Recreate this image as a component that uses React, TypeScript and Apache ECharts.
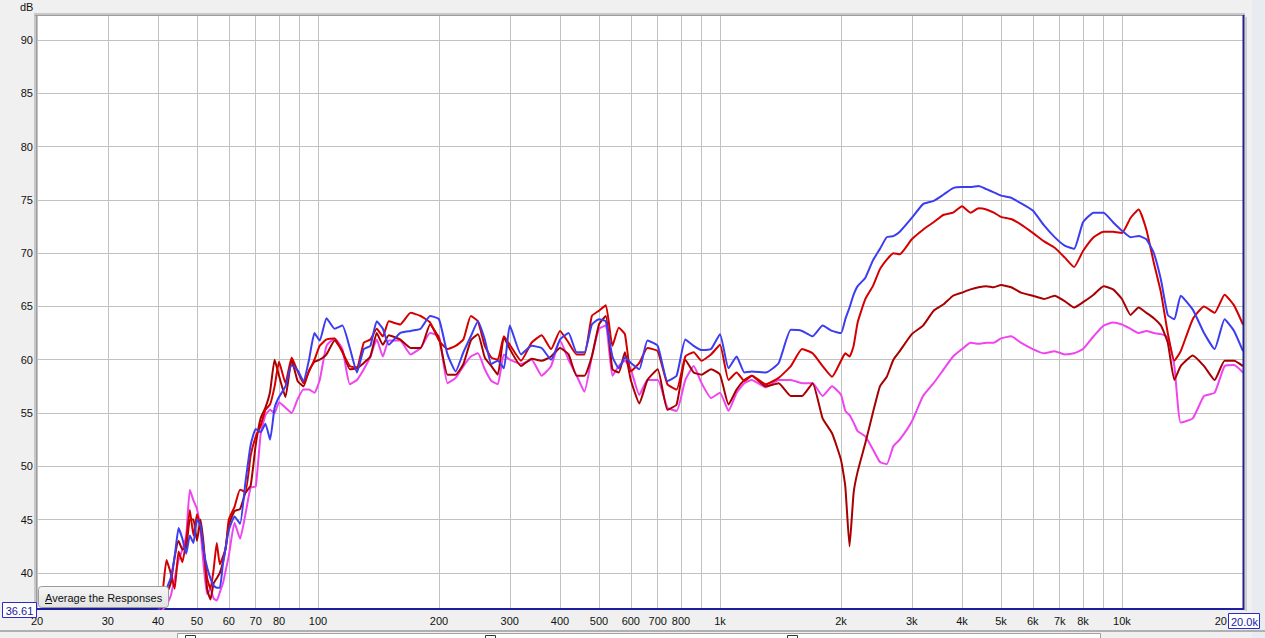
import React, { useEffect, useRef } from "react";
import * as echarts from "echarts";

// Frequencies (Hz) shared by all four responses
const freqs = [
  40, 41, 42, 43, 44, 45, 46, 47, 48, 49, 50, 51, 52, 53, 54, 55, 56, 57, 58, 59, 60,
  62, 64, 66, 68, 70, 72, 74, 76, 78, 80,
  83, 86, 89, 92, 95, 98, 101,
  105, 110, 115, 120, 125, 130, 135, 140, 145, 150,
  160, 170, 180, 190, 200,
  210, 220, 230, 240, 250, 260, 270, 280, 290, 300,
  320, 340, 360, 380, 400,
  420, 440, 460, 480, 500,
  520, 540, 560, 580, 600,
  630, 660, 700, 740, 780, 820, 860, 900, 950, 1000,
  1050, 1100, 1150, 1200, 1300, 1400, 1500, 1600, 1700, 1800, 1900, 2000,
  2050, 2100, 2150, 2200, 2300, 2400, 2500, 2600, 2700, 2800,
  3000, 3200, 3400, 3600, 3800, 4000,
  4200, 4400, 4600, 4800, 5000,
  5300, 5600, 6000, 6400, 6800, 7200, 7600, 8000,
  8500, 9000, 9500, 10000,
  10500, 11000, 11500, 12000, 12500, 13000, 13500, 14000,
  15000, 16000, 17000, 18000, 19000, 20000,
];

const blueDb = [
  36.5, 37.0, 38.5, 39.5, 41.5, 44.2, 43.2, 41.8, 43.5, 42.8, 45.0, 44.5, 42.0, 40.5, 39.5, 38.8, 38.6, 38.6, 40.8, 42.5, 44.0,
  45.3, 44.6, 48.5, 52.0, 53.5, 53.2, 54.0, 52.5, 55.5, 56.5,
  57.5, 59.5, 59.0, 58.0, 60.0, 62.5, 61.8,
  63.9, 62.9, 63.2, 61.1, 58.8, 61.0, 61.3, 63.6, 62.9, 61.4,
  62.5, 62.7, 62.9, 64.1, 63.8,
  60.5, 58.9, 60.7, 62.2, 63.6, 61.9, 59.6, 59.9, 59.2, 63.2,
  60.5, 61.3, 61.1, 60.0, 61.9,
  62.5, 60.7, 60.7, 63.3, 63.8,
  63.6, 60.3, 59.2, 60.2, 59.7,
  59.1, 61.8, 61.3, 58.0, 58.5, 61.9, 61.3, 60.9, 61.0, 62.4,
  59.2, 60.3, 58.8, 58.9, 58.8, 59.7, 62.8, 62.7, 62.2, 63.2, 62.7, 62.5,
  63.8, 64.9, 66.1, 66.9, 67.7, 69.3, 70.4, 71.5, 71.6, 72.0,
  73.3, 74.6, 74.9, 75.5, 76.1, 76.2,
  76.2, 76.3, 76.0, 75.7, 75.4,
  75.2, 74.7, 74.0, 72.6, 71.5, 70.7, 70.4, 72.9,
  73.8, 73.8, 72.9, 72.1,
  71.5, 71.6, 71.3, 70.0, 67.5, 64.2, 63.8, 66.0,
  64.7, 62.5, 61.0, 63.8, 62.7, 60.8,
];

const redDb = [
  36.8, 38.0, 41.2, 40.0, 38.5, 42.0, 41.0, 43.0, 45.9, 43.5, 45.5, 44.3, 42.0, 39.5, 38.5, 40.3, 42.8, 40.8, 41.5, 42.4, 45.0,
  46.2, 47.8, 47.6, 51.0, 52.8, 53.8, 55.3, 55.8, 57.5, 59.8,
  57.8, 60.2, 58.9, 57.8, 58.9, 60.0, 61.3,
  61.9, 62.0, 60.7, 59.4, 59.3, 61.6, 61.9, 62.9, 62.2, 63.6,
  63.3, 64.4, 64.1, 63.5, 61.8,
  61.0, 61.3, 61.9, 64.1, 63.6, 61.3, 60.2, 60.0, 62.2, 61.4,
  59.9, 61.6, 62.3, 61.0, 62.7,
  61.6, 60.5, 60.5, 64.1, 64.6,
  65.1, 61.3, 63.0, 62.4, 58.9,
  59.7, 61.1, 60.8, 57.7, 57.2, 60.3, 60.7, 59.9, 60.5, 61.4,
  58.1, 58.8, 58.0, 58.5, 57.7, 58.3, 59.4, 61.0, 60.6, 59.4, 58.4, 59.9,
  60.6, 60.3, 61.3, 63.5, 65.7, 66.9, 68.5, 69.4, 70.0, 69.9,
  71.3, 72.2, 72.9, 73.6, 73.8, 74.4,
  73.8, 74.2, 74.1, 73.8, 73.4,
  73.2, 72.7, 71.9, 71.1, 70.5, 69.6, 68.7, 70.2,
  71.5, 72.0, 72.0, 71.9,
  73.3, 74.1, 72.2, 69.1, 66.3, 62.5, 59.9, 60.8,
  63.8, 65.0, 64.4, 66.1, 65.1, 63.3,
];

const darkRedDb = [
  36.4, 37.0, 38.0, 39.0, 41.5, 43.0, 42.2, 42.3, 45.0, 45.0, 43.0, 45.0, 42.5, 38.5, 37.5, 39.0, 39.5, 40.0, 41.0, 42.5, 44.5,
  45.8, 46.0, 47.5, 48.2, 52.0, 54.5, 55.5, 57.0, 60.0, 58.5,
  56.5, 60.0, 58.0, 57.5, 59.0, 59.8, 60.0,
  60.5, 61.8, 60.8, 59.1, 59.2, 59.7, 60.3, 62.5, 61.4, 62.3,
  61.9, 61.1, 61.1, 63.3, 62.0,
  58.6, 58.6, 59.6, 61.8, 62.4, 60.2, 59.4, 58.6, 62.1, 61.0,
  59.4, 60.1, 59.9, 60.3, 61.1,
  60.5, 58.5, 58.5, 60.3, 63.3,
  64.1, 59.1, 58.8, 60.7, 58.1,
  55.9, 58.1, 59.1, 55.3, 55.8, 60.0, 58.8, 58.6, 59.1, 58.6,
  55.8, 57.2, 58.1, 58.5, 57.5, 57.8, 56.6, 56.6, 57.8, 54.5, 53.1, 50.6,
  48.1, 42.5, 47.5, 49.5, 52.2, 55.0, 57.5, 58.4, 60.0, 60.8,
  62.4, 63.2, 64.6, 65.2, 66.0, 66.3,
  66.6, 66.8, 66.9, 66.8, 67.0,
  66.8, 66.3, 66.0, 65.7, 66.0, 65.5, 64.9, 65.4,
  66.1, 66.9, 66.6, 65.7,
  64.2, 64.9, 64.4, 63.9, 63.2, 61.6, 58.1, 59.4,
  60.4, 59.4, 58.1, 59.9, 59.9, 59.4,
];

const magentaDb = [
  36.0, 36.5, 37.0, 37.8, 39.5, 41.2, 42.2, 43.5, 47.8, 46.8, 46.0, 44.0, 40.5, 38.0, 38.5, 37.6, 37.4, 38.2, 39.0, 40.3, 41.6,
  44.7, 43.2, 45.5, 48.0, 48.1, 53.0, 54.8, 55.3, 55.0, 56.0,
  55.5, 55.0, 56.3, 57.2, 57.2, 56.9, 58.1,
  61.3, 62.0, 61.0, 57.7, 58.1, 59.1, 60.3, 61.9, 60.3, 61.8,
  61.8, 60.5, 61.1, 62.5, 62.2,
  57.8, 58.3, 59.4, 60.3, 60.6, 59.1, 58.0, 57.7, 60.5, 60.0,
  59.6, 60.0, 58.5, 59.4, 61.8,
  60.0, 58.5, 57.0, 60.3, 62.9,
  63.2, 58.5, 59.4, 59.9, 59.1,
  56.7, 58.1, 58.1, 55.5, 55.2, 58.1, 59.4, 57.8, 56.4, 56.9,
  55.2, 56.9, 57.8, 58.1, 57.4, 58.1, 58.1, 57.8, 57.8, 56.6, 57.5, 56.7,
  55.2, 54.8, 54.1, 53.3, 52.8, 51.6, 50.4, 50.2, 51.9, 52.5,
  54.2, 56.6, 57.8, 59.1, 60.3, 61.0,
  61.6, 61.5, 61.6, 61.6, 62.0,
  62.2, 61.6, 61.0, 60.6, 60.8, 60.5, 60.6, 61.0,
  62.2, 63.2, 63.5, 63.3,
  62.9, 62.5, 62.7, 62.5, 62.4, 62.1, 59.4, 54.1,
  54.5, 56.6, 56.9, 59.4, 59.5, 58.8,
];

// Axis ticks
const xGridFreqs = [
  20, 30, 40, 50, 60, 70, 80, 90, 100, 200, 300, 400, 500, 600, 700, 800, 900,
  1000, 2000, 3000, 4000, 5000, 6000, 7000, 8000, 9000, 10000, 20000,
];
const xLabelFreqs = [
  20, 30, 40, 50, 60, 70, 80, 100, 200, 300, 400, 500, 600, 700, 800,
  1000, 2000, 3000, 4000, 5000, 6000, 7000, 8000, 10000, 20000,
];
const yTicks = [40, 45, 50, 55, 60, 65, 70, 75, 80, 85, 90];
const yMin = 36.61;
const yMax = 92.25;

const FONT = "'Liberation Sans', Arial, sans-serif";

export default function App() {
  const ref = useRef<HTMLDivElement>(null);
  useEffect(() => {
    const chart = echarts.init(ref.current as HTMLDivElement, null, {
      renderer: "svg",
      width: 1265,
      height: 638,
    });
    const mk = (name: string, vals: number[], color: string, z: number) => ({
      name,
      type: "line",
      data: freqs.map((f, i) => [f, vals[i]]),
      showSymbol: false,
      symbol: "none",
      smooth: 0.15,
      clip: true,
      silent: true,
      z,
      lineStyle: { color, width: 2 },
      itemStyle: { color },
    });
    const fmt = (v: number) => {
      if (v >= 20000) return "{m|20}";
      return v >= 1000 ? v / 1000 + "k" : String(v);
    };
    chart.setOption({
      animation: false,
      backgroundColor: "#f0f0f0",
      grid: {
        left: 37,
        right: 22,
        top: 16,
        bottom: 29,
        show: true,
        backgroundColor: "#ffffff",
        borderWidth: 0,
        containLabel: false,
        outerBoundsMode: "none",
      },
      xAxis: {
        type: "log",
        logBase: 10,
        min: 20,
        max: 20000,
        axisLine: { show: true, onZero: false, lineStyle: { color: "#1e1ea0", width: 2 } },
        axisTick: { show: false, customValues: xGridFreqs },
        splitLine: { show: true, lineStyle: { color: "#c2c2c2", width: 1 } },
        minorSplitLine: { show: false },
        axisLabel: {
          customValues: xLabelFreqs,
          formatter: fmt,
          color: "#111",
          fontFamily: FONT,
          fontSize: 11,
          margin: 6,
          alignMaxLabel: "right",
          rich: {
            m: { fontFamily: FONT, fontSize: 11, color: "#111", padding: [0, 16, 0, 0] },
          },
        },
      },
      yAxis: {
        type: "value",
        min: yMin,
        max: yMax,
        axisLine: { show: false },
        axisTick: { show: false, customValues: yTicks },
        splitLine: { show: true, lineStyle: { color: "#c2c2c2", width: 1 } },
        axisLabel: {
          customValues: yTicks,
          color: "#111",
          fontFamily: FONT,
          fontSize: 11,
          margin: 4,
        },
      },
      series: [
        mk("Response 4", magentaDb, "#f044f0", 2),
        mk("Response 3", darkRedDb, "#a80000", 3),
        mk("Response 2", redDb, "#d40000", 4),
        mk("Response 1", blueDb, "#3c3cf0", 5),
      ],
      graphic: [
        { type: "rect", left: 1252, top: 0, shape: { width: 13, height: 638 }, style: { fill: "#e8ebef" }, z: 1 },
        { type: "text", left: 20, top: 1, style: { text: "dB", font: `11px ${FONT}`, fill: "#111" }, z: 10 },
        // frame shadows
        { type: "rect", left: 34, top: 13, shape: { width: 1211, height: 3 }, style: { fill: "#c8c8c8" }, z: 10 },
        { type: "rect", left: 34, top: 13, shape: { width: 3, height: 597 }, style: { fill: "#c8c8c8" }, z: 10 },
        { type: "line", shape: { x1: 35, y1: 15.5, x2: 1244, y2: 15.5 }, style: { stroke: "#9c9c9c", lineWidth: 1 }, z: 11 },
        { type: "line", shape: { x1: 36.5, y1: 15, x2: 36.5, y2: 609 }, style: { stroke: "#9c9c9c", lineWidth: 1 }, z: 11 },
        { type: "line", shape: { x1: 1243.5, y1: 15, x2: 1243.5, y2: 610 }, style: { stroke: "#1e1e8c", lineWidth: 2 }, z: 11 },
        { type: "rect", left: 1245, top: 17, shape: { width: 2, height: 594 }, style: { fill: "#cfcfcf" }, z: 10 },
        // bottom panel
        { type: "line", shape: { x1: 0, y1: 631, x2: 1265, y2: 631 }, style: { stroke: "#b0b0b0", lineWidth: 2 }, z: 10 },
        { type: "rect", shape: { x: 177.5, y: 633.5, width: 923, height: 10 }, style: { fill: "#ffffff", stroke: "#a0a0a0", lineWidth: 1 }, z: 10 },
        { type: "rect", shape: { x: 185.5, y: 635.5, width: 10, height: 10 }, style: { fill: "#ffffff", stroke: "#333333", lineWidth: 1 }, z: 11 },
        { type: "rect", shape: { x: 485.5, y: 635.5, width: 10, height: 10 }, style: { fill: "#ffffff", stroke: "#333333", lineWidth: 1 }, z: 11 },
        { type: "rect", shape: { x: 787.5, y: 635.5, width: 10, height: 10 }, style: { fill: "#ffffff", stroke: "#333333", lineWidth: 1 }, z: 11 },
        // value boxes
        { type: "rect", shape: { x: 2.5, y: 602.5, width: 34, height: 15 }, style: { fill: "#ffffff", stroke: "#2a2ad0", lineWidth: 1 }, z: 20 },
        { type: "text", x: 19.5, y: 610.5, style: { text: "36.61", font: `11px ${FONT}`, fill: "#1a1aa0", align: "center", verticalAlign: "middle" }, z: 21 },
        { type: "rect", shape: { x: 1228.5, y: 613.5, width: 31, height: 15 }, style: { fill: "#ffffff", stroke: "#2a2ad0", lineWidth: 1 }, z: 20 },
        { type: "text", x: 1231, y: 621.5, style: { text: "20.0k", font: `11px ${FONT}`, fill: "#1a1aa0", align: "left", verticalAlign: "middle" }, z: 21 },
        // button
        {
          type: "rect",
          shape: { x: 38.5, y: 586.5, width: 130, height: 21, r: 3 },
          style: {
            fill: new echarts.graphic.LinearGradient(0, 0, 0, 1, [
              { offset: 0, color: "#f6f6f6" },
              { offset: 1, color: "#e2e2e2" },
            ]),
            stroke: "#9a9a9a",
            lineWidth: 1,
          },
          z: 20,
        },
        { type: "text", x: 45, y: 597.5, style: { text: "Average the Responses", font: `11px ${FONT}`, fill: "#111", align: "left", verticalAlign: "middle" }, z: 21 },
        { type: "line", shape: { x1: 45, y1: 603.5, x2: 52, y2: 603.5 }, style: { stroke: "#111", lineWidth: 1 }, z: 21 },
      ],
    });
    return () => chart.dispose();
  }, []);
  return (
    <div
      ref={ref}
      style={{ position: "fixed", left: 0, top: 0, width: 1265, height: 638 }}
    />
  );
}
